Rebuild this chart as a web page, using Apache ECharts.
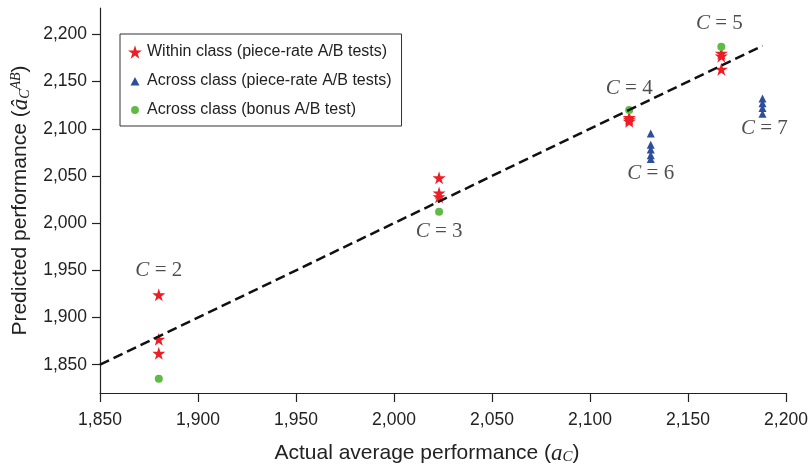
<!DOCTYPE html>
<html><head><meta charset="utf-8">
<script src="https://cdn.jsdelivr.net/npm/echarts@6/dist/echarts.min.js"></script>
<style>html,body{margin:0;padding:0;background:#fff}#c{width:808px;height:468px}</style>
</head><body><div id="c"></div>
<script>
// Data
const xTicks = [1850, 1900, 1950, 2000, 2050, 2100, 2150, 2200];
const yTicks = [1850, 1900, 1950, 2000, 2050, 2100, 2150, 2200];
const withinClass = [
  [1880, 1924], [1880, 1877], [1880, 1862],
  [2023, 2048], [2023, 2032], [2023, 2028],
  [2120, 2112], [2120, 2110], [2120, 2108],
  [2167, 2180], [2167, 2177], [2167, 2163]
];
const acrossPiece = [
  [2131, 2095], [2131, 2083], [2131, 2078], [2131, 2072], [2131, 2068],
  [2188, 2132], [2188, 2127], [2188, 2122], [2188, 2116]
];
const acrossBonus = [[1880, 1835], [2023, 2012], [2120, 2120], [2167, 2187]];
const fitLine = [[1850, 1850], [2188, 2188]];
const classLabels = [
  {name: '2', value: [1880, 1950]},
  {name: '3', value: [2023, 1991]},
  {name: '4', value: [2120, 2143]},
  {name: '5', value: [2166, 2212]},
  {name: '6', value: [2131, 2053]},
  {name: '7', value: [2189, 2100]}
];

const STAR = 'path://M50,0 L61.2,34.5 L97.6,34.5 L68.2,55.9 L79.4,90.5 L50,69.1 L20.6,90.5 L31.8,55.9 L2.4,34.5 L38.8,34.5 Z';
const TRI_LEG = 'path://M0,0 M100,100 M50,22 L82,82 L18,82 Z';
const CIR_LEG = 'path://M0,0 M100,100 M50,22 A28,28 0 1 1 49.99,22 Z';
const RED = '#ee1d25', BLUE = '#2d4d9e', GREEN = '#5dbb46';
const SANS = 'Liberation Sans', SERIF = 'Liberation Serif';
const fmt = v => Number(v).toLocaleString('en-US');

const chart = echarts.init(document.getElementById('c'));
chart.setOption({
  animation: false,
  backgroundColor: '#fff',
  grid: {left: 100, right: 22, top: 8, bottom: 75, containLabel: false, outerBoundsMode: 'none'},
  legend: {
    left: 120, top: 34, orient: 'vertical',
    itemWidth: 14, itemHeight: 14, itemGap: 13,
    padding: [10, 10, 8, 8],
    borderColor: '#333', borderWidth: 1, borderRadius: 0,
    textStyle: {fontFamily: SANS, fontSize: 16, color: '#222'},
    data: [
      {name: 'Within class (piece-rate A/B tests)', icon: STAR},
      {name: 'Across class (piece-rate A/B tests)', icon: TRI_LEG},
      {name: 'Across class (bonus A/B test)', icon: CIR_LEG}
    ]
  },
  xAxis: {
    type: 'value', min: 1850, max: 2200,
    name: '{t|Actual average performance (}{m|a}{s|C}{t|)}',
    nameLocation: 'middle', nameGap: 49,
    nameTextStyle: {padding: [0, 32, 0, 0], rich: {
      t: {fontFamily: SANS, fontSize: 21, color: '#222'},
      m: {fontFamily: SERIF, fontStyle: 'italic', fontSize: 23, color: '#222'},
      s: {fontFamily: SERIF, fontStyle: 'italic', fontSize: 15, color: '#222', verticalAlign: 'bottom', padding: [7, 0, 0, 0]}
    }},
    axisLine: {show: true, lineStyle: {color: '#222', width: 1.2}},
    axisTick: {show: true, length: 9, customValues: xTicks, lineStyle: {color: '#222', width: 1.2}},
    axisLabel: {customValues: xTicks, formatter: fmt, margin: 18, fontFamily: SANS, fontSize: 17.5, color: '#222'},
    splitLine: {show: false}
  },
  yAxis: {
    type: 'value', min: 1820, max: 2228,
    name: '{t|Predicted performance (}{m|â}{s|C}{p|AB}{t|)}',
    nameLocation: 'middle', nameGap: 68,
    nameTextStyle: {rich: {
      t: {fontFamily: SANS, fontSize: 21, color: '#222'},
      m: {fontFamily: SERIF, fontStyle: 'italic', fontSize: 23, color: '#222'},
      s: {fontFamily: SERIF, fontStyle: 'italic', fontSize: 14, color: '#222', verticalAlign: 'bottom'},
      p: {fontFamily: SERIF, fontStyle: 'italic', fontSize: 14, color: '#222', verticalAlign: 'top'}
    }},
    axisLine: {show: true, lineStyle: {color: '#222', width: 1.2}},
    axisTick: {show: true, length: 8, customValues: yTicks, lineStyle: {color: '#222', width: 1.2}},
    axisLabel: {customValues: yTicks, formatter: fmt, margin: 13, fontFamily: SANS, fontSize: 17.5, color: '#222'},
    splitLine: {show: false}
  },
  series: [
    {name: 'Within class (piece-rate A/B tests)', type: 'scatter', symbol: STAR, symbolSize: 13,
     itemStyle: {color: RED, opacity: 1}, data: withinClass, z: 3},
    {name: 'Across class (piece-rate A/B tests)', type: 'scatter', symbol: 'triangle', symbolSize: [8, 8],
     itemStyle: {color: BLUE, opacity: 1}, data: acrossPiece, z: 3},
    {name: 'Across class (bonus A/B test)', type: 'scatter', symbol: 'circle', symbolSize: 8,
     itemStyle: {color: GREEN, opacity: 1}, data: acrossBonus, z: 4},
    {name: 'fit', type: 'line', data: fitLine, showSymbol: false, symbol: 'none', z: 5,
     lineStyle: {color: '#111', width: 2.5, type: [10, 5]}},
    {name: 'labels', type: 'scatter', symbolSize: 0, data: classLabels, z: 6, silent: true,
     label: {show: true, position: 'inside',
       formatter: p => '{i|C}{n| = ' + p.name + '}',
       rich: {
         i: {fontFamily: SERIF, fontStyle: 'italic', fontSize: 21, color: '#222'},
         n: {fontFamily: SERIF, fontSize: 21, color: '#222'}
       }}}
  ]
});
</script></body></html>
